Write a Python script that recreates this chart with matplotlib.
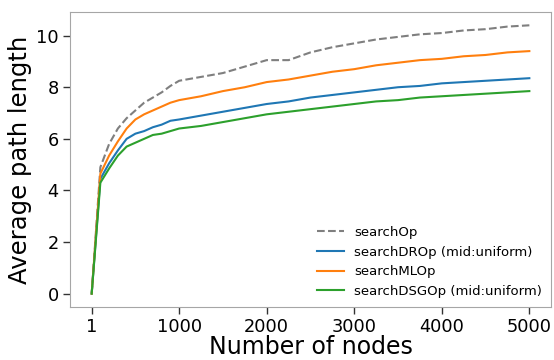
import matplotlib
matplotlib.use("Agg")
import matplotlib.pyplot as plt

nodes = [1, 100, 200, 300, 400, 500, 600, 700, 800, 900,
         1000, 1250, 1500, 1750, 2000, 2250, 2500, 2750, 3000,
         3250, 3500, 3750, 4000, 4250, 4500, 4750, 5000]

search_op = [0, 4.9, 5.8, 6.4, 6.8, 7.1, 7.4, 7.6, 7.8, 8.05,
             8.25, 8.4, 8.55, 8.8, 9.05, 9.05, 9.35, 9.55, 9.7,
             9.85, 9.95, 10.05, 10.1, 10.2, 10.25, 10.35, 10.4]
search_dr = [0, 4.45, 5.05, 5.55, 6.0, 6.2, 6.3, 6.45, 6.55, 6.7,
             6.75, 6.9, 7.05, 7.2, 7.35, 7.45, 7.6, 7.7, 7.8,
             7.9, 8.0, 8.05, 8.15, 8.2, 8.25, 8.3, 8.35]
search_ml = [0, 4.65, 5.35, 5.9, 6.4, 6.75, 6.95, 7.1, 7.25, 7.4,
             7.5, 7.65, 7.85, 8.0, 8.2, 8.3, 8.45, 8.6, 8.7,
             8.85, 8.95, 9.05, 9.1, 9.2, 9.25, 9.35, 9.4]
search_dsg = [0, 4.3, 4.85, 5.35, 5.7, 5.85, 6.0, 6.15, 6.2, 6.3,
              6.4, 6.5, 6.65, 6.8, 6.95, 7.05, 7.15, 7.25, 7.35,
              7.45, 7.5, 7.6, 7.65, 7.7, 7.75, 7.8, 7.85]

labels = ["searchOp", "searchDROp (mid:uniform)", "searchMLOp",
          "searchDSGOp (mid:uniform)"]
xticks = [1, 1000, 2000, 3000, 4000, 5000]
yticks = [0, 2, 4, 6, 8, 10]

fig = plt.figure(figsize=(5.54, 3.6), dpi=100)
ax = fig.add_axes([0.126, 0.147, 0.869, 0.82])

ax.plot(nodes, search_op, color="#7f7f7f", linestyle="--", lw=1.5, label=labels[0])
ax.plot(nodes, search_dr, color="#1f77b4", lw=1.5, label=labels[1])
ax.plot(nodes, search_ml, color="#ff7f0e", lw=1.5, label=labels[2])
ax.plot(nodes, search_dsg, color="#2ca02c", lw=1.5, label=labels[3])

ax.set_xticks(xticks)
ax.set_yticks(yticks)
ax.tick_params(labelsize=12.8, length=5, width=1, color="0.2", pad=3)
for s in ax.spines.values():
    s.set_color("0.65")
ax.set_xlabel("Number of nodes", fontsize=17, labelpad=-1)
ax.set_ylabel("Average path length", fontsize=17.5, labelpad=3)

ax.legend(loc="lower right", fontsize=9.5, frameon=False,
          borderaxespad=0.3, handlelength=2.0)

fig.savefig("out.png", dpi=100)
